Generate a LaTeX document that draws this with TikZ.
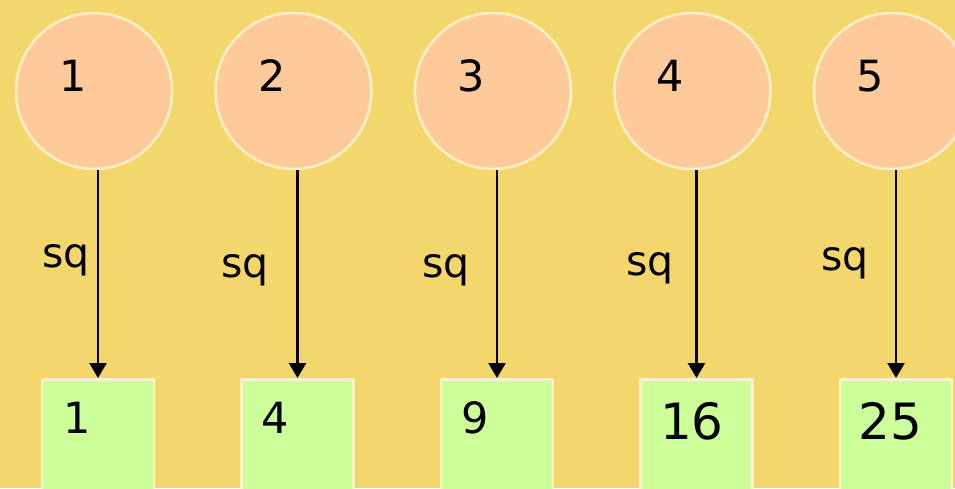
\documentclass[tikz,border=0pt]{standalone}
\usepackage{fontspec}
\setmainfont{DejaVu Sans}
\usetikzlibrary{arrows.meta}
\definecolor{bgyellow}{RGB}{243,214,108}
\definecolor{peach}{RGB}{255,202,153}
\definecolor{lgreen}{RGB}{204,255,153}
\definecolor{cream}{RGB}{255,240,200}
\tikzset{
  circ/.style={circle,draw=cream,line width=2.5pt,fill=peach,minimum size=156pt,inner sep=0pt},
  sqbox/.style={rectangle,draw=cream,line width=2.5pt,fill=lgreen,minimum width=112pt,minimum height=112pt,inner sep=0pt,anchor=north},
  arr/.style={line width=2.4pt,-{Triangle[length=15pt,width=17pt]}},
  numtxt/.style={anchor=base,inner sep=0pt,font=\fontsize{43}{43}\selectfont},
  bigtxt/.style={anchor=base,inner sep=0pt,font=\fontsize{50}{50}\selectfont},
  sqtxt/.style={anchor=base,inner sep=0pt,font=\fontsize{41}{41}\selectfont}
}
\begin{document}
\begin{tikzpicture}[x=1pt,y=-1pt]
\useasboundingbox (0,0) rectangle (955,488);
\fill[bgyellow] (0,0) rectangle (955,488);
\begin{scope}
\clip (0,0) rectangle (955,488);
% circles
\node[circ] (c1) at (94,91) {};
\node[circ] (c2) at (293.5,91) {};
\node[circ] (c3) at (493,91) {};
\node[circ] (c4) at (692.5,91) {};
\node[circ] (c5) at (892,91) {};
% squares
\node[sqbox] (s1) at (98,378) {};
\node[sqbox] (s2) at (297.5,378) {};
\node[sqbox] (s3) at (497,378) {};
\node[sqbox] (s4) at (696.5,378) {};
\node[sqbox] (s5) at (896,378) {};
\end{scope}
% circle texts
\node[numtxt] (t1) at (73,91) {1};
\node[numtxt] (t2) at (272,91) {2};
\node[numtxt] (t3) at (471,91) {3};
\node[numtxt] (t4) at (670.5,91) {4};
\node[numtxt] (t5) at (870,91) {5};
% square texts
\node[numtxt] (r1) at (77,433) {1};
\node[numtxt] (r2) at (275,433) {4};
\node[numtxt] (r3) at (475,433) {9};
\node[bigtxt] (r4) at (692,439) {16};
\node[bigtxt] (r5) at (890,439) {25};
% arrows
\foreach \i in {1,...,5}{
  \draw[arr] (s\i.north |- c\i.south) -- (s\i.north);
}
% labels
\node[sqtxt] (l1) at (66,267) {sq};
\node[sqtxt] (l2) at (245,277) {sq};
\node[sqtxt] (l3) at (446,277) {sq};
\node[sqtxt] (l4) at (650,275) {sq};
\node[sqtxt] (l5) at (845,270) {sq};
\end{tikzpicture}
\end{document}
